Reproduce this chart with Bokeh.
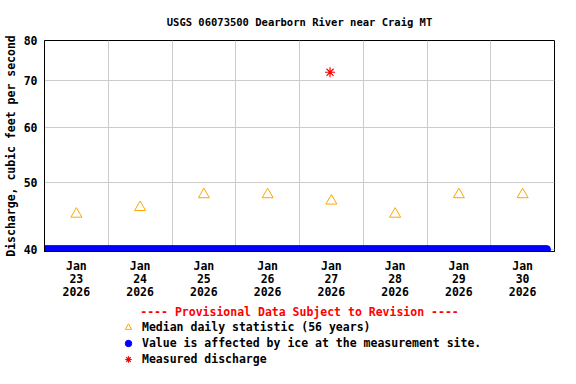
import pandas as pd
from bokeh.plotting import figure
from bokeh.layouts import column
from bokeh.models import (FixedTicker, Grid, Legend, LegendItem, Label,
                          DatetimeTickFormatter, Range1d)
from bokeh.embed import file_html
from bokeh.resources import INLINE

# ---- data ----
median_dates = ["2026-01-23 12:00", "2026-01-24 12:00", "2026-01-25 12:00", "2026-01-26 12:00",
                "2026-01-27 12:00", "2026-01-28 12:00", "2026-01-29 12:00", "2026-01-30 12:00"]
median_values = [45, 46, 48, 48, 47, 45, 48, 48]

measured_dates = ["2026-01-27 11:30"]
measured_values = [72]

ice_start = "2026-01-23 00:00"
ice_end = "2026-01-30 21:00"
ice_level = 40

day_boundaries = ["2026-01-24", "2026-01-25", "2026-01-26", "2026-01-27",
                  "2026-01-28", "2026-01-29", "2026-01-30"]
y_ticks = [40, 50, 60, 70, 80]

FONT = "DejaVu Sans Mono"
NAN = float("nan")

med_x = pd.to_datetime(median_dates)
meas_x = pd.to_datetime(measured_dates)
ice_x = pd.date_range(ice_start, ice_end, freq="1h")
ice_y = [ice_level] * len(ice_x)

def ms(ts):
    return pd.Timestamp(ts).value / 1e6

p = figure(width=576, height=303, x_axis_type="datetime", y_axis_type="log",
           output_backend="svg", toolbar_location=None,
           x_range=Range1d(ms("2026-01-23"), ms("2026-01-31")),
           y_range=Range1d(39.74, 80),
           min_border_left=44, min_border_right=22, min_border_top=40, min_border_bottom=52)

p.title.text = "USGS 06073500 Dearborn River near Craig MT"
p.title.align = "center"
p.title.text_font = FONT
p.title.text_font_size = "10.5px"
p.title.text_font_style = "bold"
p.title.text_color = "black"
p.title.standoff = 25

p.outline_line_color = "black"
p.outline_line_alpha = 1

# axes
p.xaxis.ticker = FixedTicker(ticks=[ms(d) for d in median_dates])
fmt = "%b\n%d\n%Y"
p.xaxis.formatter = DatetimeTickFormatter(hours=fmt, days=fmt, months=fmt, hourmin=fmt,
                                          minutes=fmt, years=fmt, minsec=fmt, seconds=fmt)
p.yaxis.ticker = FixedTicker(ticks=y_ticks)
for ax in (p.xaxis[0], p.yaxis[0]):
    ax.major_tick_out = 0
    ax.major_tick_in = 0
    ax.minor_tick_out = 0
    ax.minor_tick_in = 0
    ax.major_label_text_font = FONT
    ax.major_label_text_font_size = "11.5px"
    ax.major_label_text_font_style = "bold"
    ax.major_label_text_color = "black"
    ax.axis_line_color = "black"
    ax.axis_label_text_font = FONT
    ax.axis_label_text_font_size = "11.5px"
    ax.axis_label_text_font_style = "bold"
    ax.axis_label_text_color = "black"
p.xaxis.major_label_text_line_height = 0.95
p.xaxis.major_label_standoff = 7
p.yaxis.major_label_standoff = 7
p.yaxis.axis_label = "Discharge, cubic feet per second"
p.yaxis.axis_label_standoff = 3

p.xgrid.visible = False
p.ygrid.grid_line_color = "#cccccc"
p.ygrid.grid_line_alpha = 1
p.add_layout(Grid(dimension=0, ticker=FixedTicker(ticks=[ms(d) for d in day_boundaries]),
                  grid_line_color="#cccccc"))

MED_STYLE = dict(marker="triangle", size=11, fill_color=None, line_color="#ffa500", line_width=1)
ICE_STYLE = dict(marker="circle", size=8, color="#0000ff")
MEAS_STYLE = dict(marker="asterisk", size=10, line_color="#ff0000", line_width=1.2)

# glyphs
r_ice = p.scatter(ice_x, ice_y, **ICE_STYLE)
r_med = p.scatter(med_x, median_values, **MED_STYLE)
r_meas = p.scatter(meas_x, measured_values, **MEAS_STYLE)

# ---- legend panel ----
p2 = figure(width=576, height=81, output_backend="svg", toolbar_location=None,
            x_range=Range1d(0, 576), y_range=Range1d(0, 81),
            x_axis_location=None, y_axis_location=None,
            min_border_left=0, min_border_right=0, min_border_top=0, min_border_bottom=0)
p2.grid.visible = False
p2.outline_line_color = None

# legend-only renderers (no visible points)
l_med = p2.scatter([NAN], [NAN], **MED_STYLE)
l_ice = p2.scatter([NAN], [NAN], **ICE_STYLE)
l_meas = p2.scatter([NAN], [NAN], **MEAS_STYLE)

p2.add_layout(Label(x=255, y=73, x_units="screen", y_units="screen",
                    text="---- Provisional Data Subject to Revision ----",
                    text_align="center", text_baseline="middle", text_color="#ff0000",
                    text_font=FONT, text_font_size="11.5px", text_font_style="bold"))

legend = Legend(items=[
    LegendItem(label="Median daily statistic (56 years)", renderers=[l_med]),
    LegendItem(label="Value is affected by ice at the measurement site.", renderers=[l_ice]),
    LegendItem(label="Measured discharge", renderers=[l_meas]),
], location=(76, 17), orientation="vertical")
legend.label_text_font = FONT
legend.label_text_font_size = "11.5px"
legend.label_text_font_style = "bold"
legend.label_text_color = "black"
legend.border_line_color = None
legend.background_fill_alpha = 0
legend.glyph_width = 16
legend.glyph_height = 16
legend.label_height = 16
legend.spacing = 0
legend.padding = 0
legend.margin = 0
legend.label_standoff = 6
p2.add_layout(legend, "center")

open("out.html", "w").write(file_html(column(p, p2, spacing=0), INLINE))
